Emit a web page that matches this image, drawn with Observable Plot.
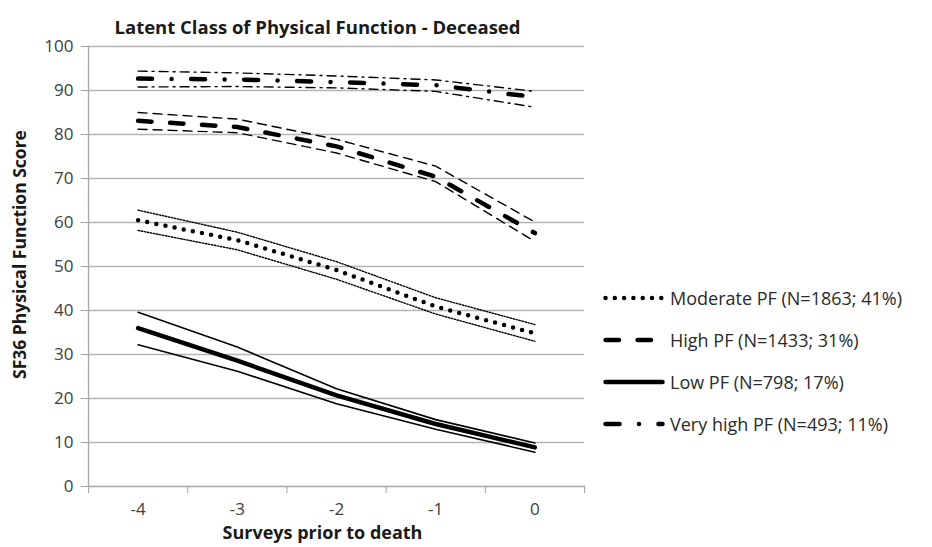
<!DOCTYPE html>
<html><head><meta charset="utf-8">
<script src="https://cdn.jsdelivr.net/npm/d3@7"></script>
<script src="https://cdn.jsdelivr.net/npm/@observablehq/plot@0.6"></script>
<style>
body{margin:0;background:#fff;font-family:"Open Sans",sans-serif;}
#wrap{position:relative;width:932px;height:547px;}
#legend{position:absolute;left:603px;top:277px;}
.item{display:flex;align-items:center;height:42px;font-size:18px;color:#2a2a2a;white-space:nowrap;}
.item svg{margin-right:5px;}
</style></head>
<body><div id="wrap"><div id="chart"></div><div id="legend"></div></div>
<script>
const surveys = [-4, -3, -2, -1, 0];
const yTicks = [0, 10, 20, 30, 40, 50, 60, 70, 80, 90, 100];
const classNames = ["Moderate PF (N=1863; 41%)", "High PF (N=1433; 31%)", "Low PF (N=798; 17%)", "Very high PF (N=493; 11%)"];

const moderateMean  = [60.5, 56.0, 49.2, 40.9, 34.8];
const moderateUpper = [62.8, 57.8, 51.1, 42.9, 36.8];
const moderateLower = [58.2, 53.8, 47.1, 39.2, 33.0];

const highMean  = [83.1, 81.7, 77.3, 70.4, 57.6];
const highUpper = [85.0, 83.5, 78.9, 72.8, 60.1];
const highLower = [81.2, 80.4, 75.8, 69.3, 55.7];

const lowMean  = [36.0, 28.6, 20.7, 14.2, 8.9];
const lowUpper = [39.6, 31.7, 22.2, 15.2, 9.9];
const lowLower = [32.2, 26.2, 18.8, 13.0, 7.8];

const veryHighMean  = [92.7, 92.5, 91.9, 91.2, 88.5];
const veryHighUpper = [94.4, 94.0, 93.3, 92.4, 89.8];
const veryHighLower = [90.8, 90.9, 90.6, 89.8, 86.2];

const styles = {
  moderate: {mean: {strokeWidth: 4.5, strokeDasharray: "0 9.3", strokeLinecap: "round"}, ci: {strokeWidth: 1.4, strokeDasharray: "1.5 1.6"}},
  high: {mean: {strokeWidth: 4.5, strokeDasharray: "13.5 18.5", strokeLinecap: "round"}, ci: {strokeWidth: 1.4, strokeDasharray: "9 6"}},
  low: {mean: {strokeWidth: 4.5}, ci: {strokeWidth: 1.6}},
  veryHigh: {mean: {strokeWidth: 4.5, strokeDasharray: "14 19.5 0 19.5", strokeLinecap: "round"}, ci: {strokeWidth: 1.4, strokeDasharray: "9 5 2 5"}}
};

const series = [
  ["moderate", moderateMean, moderateUpper, moderateLower],
  ["high", highMean, highUpper, highLower],
  ["low", lowMean, lowUpper, lowLower],
  ["veryHigh", veryHighMean, veryHighUpper, veryHighLower]
];

const lineMarks = [];
for (const [key, mean, upper, lower] of series) {
  const st = styles[key];
  for (const arr of [upper, lower]) lineMarks.push(Plot.line(surveys, {x: surveys, y: arr, stroke: "#000", ...st.ci}));
  lineMarks.push(Plot.line(surveys, {x: surveys, y: mean, stroke: "#000", ...st.mean}));
}

const boundaries = surveys.map(s => s - 0.5).concat([surveys[surveys.length - 1] + 0.5]);
const axisColor = "#a6a6a6";

const chart = Plot.plot({
  width: 932, height: 547,
  marginLeft: 88, marginRight: 348, marginTop: 46, marginBottom: 61,
  style: {fontFamily: "Open Sans, sans-serif", background: "white", color: "#404040"},
  x: {domain: [boundaries[0], boundaries[boundaries.length - 1]]},
  y: {domain: [0, 100]},
  marks: [
    Plot.gridY(yTicks.slice(1), {stroke: "#b4b4b4", strokeOpacity: 1, strokeWidth: 1.3}),
    Plot.frame({anchor: "bottom", stroke: axisColor, strokeWidth: 1.3}),
    Plot.frame({anchor: "left", stroke: axisColor, strokeWidth: 1.3}),
    Plot.axisY(yTicks, {tickSize: 7, tickPadding: 8, stroke: axisColor, fill: "#404040", fontSize: 17, label: null}),
    Plot.axisX(boundaries, {tickSize: 7, tickFormat: () => "", stroke: axisColor, label: null}),
    Plot.axisX(surveys, {tickSize: 0, tickPadding: 16, fill: "#404040", fontSize: 17, label: null, tickFormat: d => String(d)}),
    ...lineMarks,
    Plot.text(["Latent Class of Physical Function - Deceased"], {frameAnchor: "top", dy: -26, dx: -19, fontWeight: "bold", fontSize: 18.5, fill: "#1a1a1a"}),
    Plot.text(["Surveys prior to death"], {frameAnchor: "bottom", dy: 52, dx: -14, fontWeight: "bold", fontSize: 18, fill: "#1a1a1a"}),
    Plot.text(["SF36 Physical Function Score"], {frameAnchor: "left", textAnchor: "middle", dx: -68, dy: -12, rotate: -90, fontWeight: "bold", fontSize: 17.5, fill: "#1a1a1a"})
  ]
});
document.getElementById("chart").appendChild(chart);

const legendKeys = ["moderate", "high", "low", "veryHigh"];
const legend = document.getElementById("legend");
legendKeys.forEach((k, i) => {
  const st = styles[k].mean;
  const div = document.createElement("div");
  div.className = "item";
  div.innerHTML = `<svg width="62" height="12"><line x1="2.5" y1="6" x2="59.5" y2="6" stroke="#000" stroke-width="${st.strokeWidth}" ${st.strokeDasharray ? `stroke-dasharray="${st.strokeDasharray}"` : ""} stroke-linecap="round"/></svg><span>${classNames[i]}</span>`;
  legend.appendChild(div);
});
</script>
</body></html>
